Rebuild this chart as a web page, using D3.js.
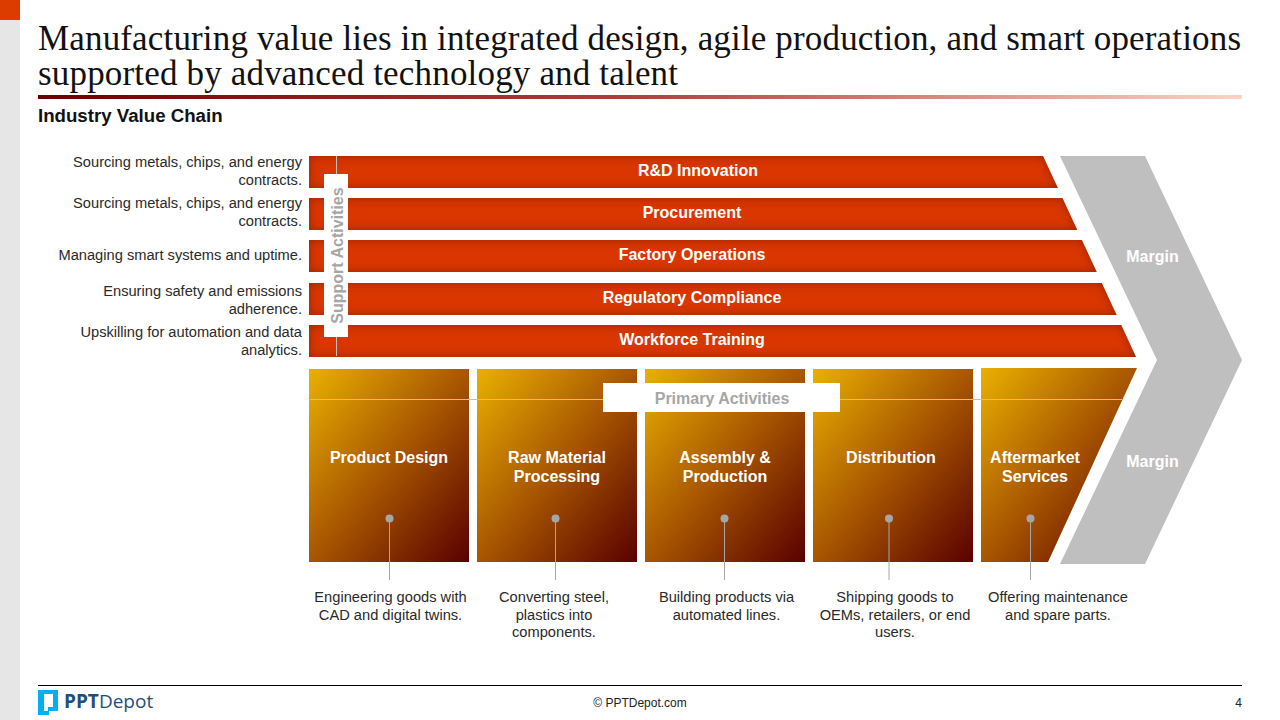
<!DOCTYPE html>
<html><head><meta charset="utf-8">
<script src="https://cdn.jsdelivr.net/npm/d3@7"></script>
<style>html,body{margin:0;padding:0;background:#fff}svg{display:block}text{font-family:"Liberation Sans",Arial,sans-serif}</style>
</head><body><svg id="c" width="1280" height="720"></svg>
<script>
const titleLines = ["Manufacturing value lies in integrated design, agile production, and smart operations","supported by advanced technology and talent"];
const subtitle = "Industry Value Chain";
const supportActivities = ["R&D Innovation","Procurement","Factory Operations","Regulatory Compliance","Workforce Training"];
const supportNotes = [["Sourcing metals, chips, and energy","contracts."],["Sourcing metals, chips, and energy","contracts."],["Managing smart systems and uptime."],["Ensuring safety and emissions","adherence."],["Upskilling for automation and data","analytics."]];
const supportNoteBaselines = [167,208,260,296,337];
const supportLabelCentres = [698,692,692,692,692];
const primaryActivities = [["Product Design"],["Raw Material","Processing"],["Assembly &","Production"],["Distribution"],["Aftermarket","Services"]];
const primaryNotes = [["Engineering goods with","CAD and digital twins."],["Converting steel,","plastics into","components."],["Building products via","automated lines."],["Shipping goods to","OEMs, retailers, or end","users."],["Offering maintenance","and spare parts."]];
const primaryLabelCentres = [389,557,725,891,1035];
const primaryNoteCentres = [390.5,554,726.5,895,1058];
const primaryDots = [389.5,555.5,724.5,889,1030.5];
const marginLabels = ["Margin","Margin"];

const svg = d3.select("#c");
const defs = svg.append("defs");
const lg = defs.append("linearGradient").attr("id","rule");
[[0,"#6a0000"],[.5,"#a8453a"],[1,"#ffd2c6"]].forEach(s=>lg.append("stop").attr("offset",s[0]).attr("stop-color",s[1]));
const bg = defs.append("linearGradient").attr("id","box").attr("x1",0).attr("y1",0).attr("x2",1).attr("y2",1);
[[0,"#e9b100"],[.5,"#a85600"],[1,"#590000"]].forEach(s=>bg.append("stop").attr("offset",s[0]).attr("stop-color",s[1]));
const f = defs.append("filter").attr("id","glow").attr("filterUnits","userSpaceOnUse").attr("x",280).attr("y",130).attr("width",900).attr("height",260).attr("color-interpolation-filters","sRGB");
f.append("feComponentTransfer").attr("in","SourceAlpha").attr("result","inv").append("feFuncA").attr("type","table").attr("tableValues","1 0");
f.append("feGaussianBlur").attr("in","inv").attr("stdDeviation",5).attr("result","b");
f.append("feFlood").attr("flood-color","#8a1f00").attr("flood-opacity",.8);
f.append("feComposite").attr("in2","b").attr("operator","in").attr("result","s");
f.append("feComposite").attr("in","s").attr("in2","SourceAlpha").attr("operator","in").attr("result","inner");
const fm=f.append("feMerge");fm.append("feMergeNode").attr("in","SourceGraphic");fm.append("feMergeNode").attr("in","inner");

// page furniture
svg.append("rect").attr("width",20).attr("height",720).attr("fill","#e6e6e6");
svg.append("rect").attr("width",20).attr("height",20).attr("fill","#dc3c00");
const titleWidths=[1203,640];
titleLines.forEach((t,i)=>svg.append("text").attr("x",38).attr("y",49.5+i*35.5).attr("textLength",titleWidths[i]).attr("lengthAdjust","spacing")
  .style("font-family","'Liberation Serif',serif").attr("font-size",35).attr("fill","#111").text(t));
svg.append("rect").attr("x",38).attr("y",95).attr("width",1204).attr("height",4).attr("fill","url(#rule)");
svg.append("text").attr("x",38).attr("y",122).attr("font-size",18.67).attr("font-weight","bold").attr("fill","#111").text(subtitle);

// scales
const yRow = d3.scaleBand().domain(d3.range(supportActivities.length)).range([156,357]).paddingInner(.2367);
const xCol = d3.scaleBand().domain(d3.range(primaryActivities.length)).range([309,1141]).paddingInner(8/168);
const xSupportEdge = d3.scaleLinear().domain([156,357]).range([1043,1136]);
const xPrimaryEdge = d3.scaleLinear().domain([368,562]).range([1137,1048]);
const line = d3.line();
const rowTop = i => Math.round(yRow(i));
const rowH = Math.round(yRow.bandwidth());

// support bars
svg.append("g").attr("filter","url(#glow)").selectAll("path").data(supportActivities).join("path")
 .attr("d",(d,i)=>{const t=rowTop(i),b=t+rowH;return line([[309,t],[xSupportEdge(t),t],[xSupportEdge(b),b],[309,b]])+"Z"})
 .attr("fill","#d93600");

// primary boxes
const colTop=369,colBot=562;
svg.append("g").selectAll("path").data(primaryActivities).join("path")
 .attr("d",(d,i)=>{const x=xCol(i),w=xCol.bandwidth();
   if(i<primaryActivities.length-1) return line([[x,colTop],[x+w,colTop],[x+w,colBot],[x,colBot]])+"Z";
   return line([[x,368],[xPrimaryEdge(368),368],[xPrimaryEdge(colBot),colBot],[x,colBot]])+"Z";})
 .attr("fill","url(#box)");

// margin chevron
svg.append("path").attr("d",line([[1060,156],[1145,156],[1242,360],[1145,564],[1060,564],[1157,360]])+"Z").attr("fill","#bfbfbf");
marginLabels.forEach((m,i)=>svg.append("text").attr("x",1152.5).attr("y",[262,467][i]).attr("text-anchor","middle").attr("font-size",16).attr("font-weight","bold").attr("fill","#fff").text(m));

// guide lines and tags
svg.append("line").attr("x1",336.5).attr("x2",336.5).attr("y1",156).attr("y2",356).attr("stroke","#bfbfbf").attr("stroke-width",1);
svg.append("rect").attr("x",324).attr("y",174).attr("width",24).attr("height",163).attr("fill","#fff");
svg.append("text").attr("transform","translate(342.5,255.5) rotate(-90)").attr("text-anchor","middle").attr("font-size",16).attr("font-weight","bold").attr("fill","#a6a6a6").text("Support Activities");
svg.append("line").attr("x1",310).attr("x2",1122).attr("y1",399.5).attr("y2",399.5).attr("stroke","#bfbfbf").attr("stroke-width",1);
svg.append("rect").attr("x",603).attr("y",383).attr("width",237).attr("height",29).attr("fill","#fff");
svg.append("text").attr("x",722).attr("y",404).attr("text-anchor","middle").attr("font-size",16).attr("font-weight","bold").attr("fill","#a6a6a6").text("Primary Activities");

// support labels and notes
svg.append("g").selectAll("text").data(supportActivities).join("text")
 .attr("x",(d,i)=>supportLabelCentres[i]).attr("y",(d,i)=>rowTop(i)+rowH/2+4)
 .attr("text-anchor","middle").attr("font-size",16).attr("font-weight","bold").attr("fill","#fff").text(d=>d);
supportNotes.forEach((ls,i)=>{
  ls.forEach((l,j)=>svg.append("text").attr("x",302).attr("y",supportNoteBaselines[i]+j*17.6).attr("text-anchor","end").attr("font-size",14.67).attr("fill","#2a2a2a").text(l));});

// primary labels, connectors, notes
primaryActivities.forEach((ls,i)=>{
  ls.forEach((l,j)=>svg.append("text").attr("x",primaryLabelCentres[i]).attr("y",463+j*19).attr("text-anchor","middle").attr("font-size",16).attr("font-weight","bold").attr("fill","#fff").text(l));
  svg.append("line").attr("x1",primaryDots[i]).attr("x2",primaryDots[i]).attr("y1",518).attr("y2",580).attr("stroke","#a6a6a6").attr("stroke-width",1);
  svg.append("circle").attr("cx",primaryDots[i]).attr("cy",518.5).attr("r",4).attr("fill","#a6a6a6");
  primaryNotes[i].forEach((l,j)=>svg.append("text").attr("x",primaryNoteCentres[i]).attr("y",602+j*17.6).attr("text-anchor","middle").attr("font-size",14.67).attr("fill","#2a2a2a").text(l));
});

// footer
svg.append("line").attr("x1",38).attr("x2",1242).attr("y1",685.5).attr("y2",685.5).attr("stroke","#000").attr("stroke-width",1);
svg.append("path").attr("d","M38 690H58V711H49V715H38Z M44 694V711H48V707H53V694Z").attr("fill","#00b0f0").attr("fill-rule","evenodd");
const lt=svg.append("text").attr("x",64).attr("y",708).attr("font-size",19).attr("fill","#1f4e79").style("font-family","'Open Sans',sans-serif");
lt.append("tspan").attr("font-weight","bold").text("PPT");lt.append("tspan").text("Depot");
svg.append("text").attr("x",640).attr("y",707).attr("text-anchor","middle").attr("font-size",12).attr("fill","#222").text("© PPTDepot.com");
svg.append("text").attr("x",1242).attr("y",707).attr("text-anchor","end").attr("font-size",12).attr("fill","#222").text("4");
</script></body></html>
